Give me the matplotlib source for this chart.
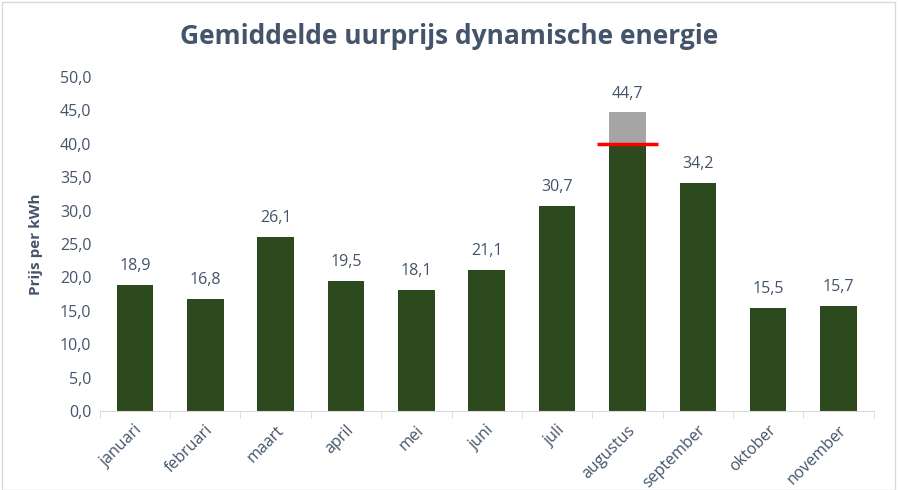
import numpy as np
import matplotlib.pyplot as plt
from matplotlib.patches import Rectangle

# Data
months = ["januari", "februari", "maart", "april", "mei", "juni", "juli",
          "augustus", "september", "oktober", "november"]
prices = [18.9, 16.8, 26.1, 19.5, 18.1, 21.1, 30.7, 44.7, 34.2, 15.5, 15.7]
cap_month = "augustus"
cap_value = 40.0

plt.rcParams['font.family'] = ['Open Sans', 'DejaVu Sans']
text_col = '#44546A'
green = '#2D4A1F'
gray = '#A5A5A5'

fig = plt.figure(figsize=(8.98, 4.9), dpi=100)
ax = fig.add_axes([0.111, 0.161, 0.862, 0.682])

x = np.arange(len(months))
cap_idx = months.index(cap_month)
green_vals = [min(v, cap_value) if i == cap_idx else v for i, v in enumerate(prices)]
ax.bar(x, green_vals, width=0.52, color=green)
ax.bar(x[cap_idx], prices[cap_idx] - cap_value, bottom=cap_value, width=0.52, color=gray)
ax.hlines(cap_value, x[cap_idx] - 0.43, x[cap_idx] + 0.43, color='red', linewidth=2.5, zorder=5)

for xi, v in zip(x, prices):
    ax.text(xi, v + 1.6, f"{v:.1f}".replace('.', ','), ha='center', va='bottom',
            fontsize=11.5, color=text_col)

ax.set_xlim(-0.5, len(months) - 0.5)
ax.set_ylim(0, 50)
ax.set_yticks(np.arange(0, 50.1, 5))
ax.set_yticklabels([f"{t:.1f}".replace('.', ',') for t in np.arange(0, 50.1, 5)],
                   fontsize=11.5, color=text_col)
ax.set_xticks(x)
ax.set_xticklabels(months, rotation=45, ha='right', va='top', rotation_mode='anchor',
                   fontsize=11.5, color=text_col)
ax.tick_params(axis='x', which='major', length=0, pad=8)
ax.set_xticks(np.arange(-0.5, len(months)), minor=True)
ax.tick_params(axis='x', which='minor', length=5, color='#D9D9D9')
ax.tick_params(axis='y', length=0, pad=6)

for s in ['top', 'right', 'left']:
    ax.spines[s].set_visible(False)
ax.spines['bottom'].set_color('#D9D9D9')

ax.set_ylabel("Prijs per kWh", fontsize=11, fontweight='bold', color=text_col, labelpad=12)
fig.text(0.5, 0.925, "Gemiddelde uurprijs dynamische energie", ha='center', va='center',
         fontsize=19, fontweight='bold', color=text_col)

fig.patches.append(Rectangle((0.002, 0.0), 0.995, 0.996, transform=fig.transFigure,
                             fill=False, edgecolor='#D9D9D9', linewidth=1))

fig.savefig("out.png", dpi=100)
